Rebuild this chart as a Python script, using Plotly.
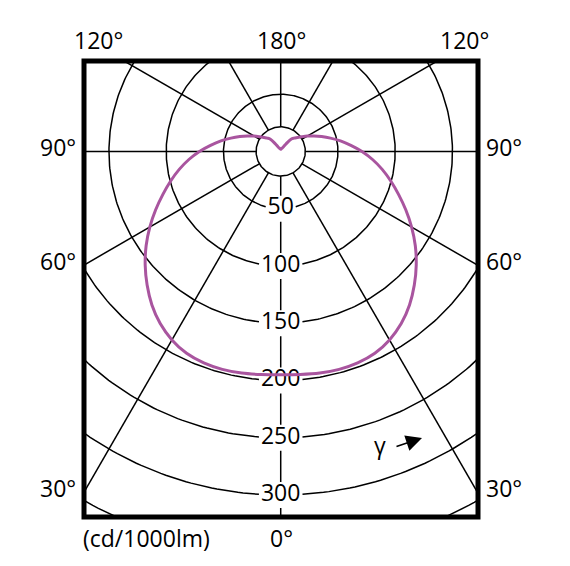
"""Polar luminous intensity diagram (cd/1000lm) drawn on a cropped cartesian frame."""
import numpy as np
import plotly.graph_objects as go

# ---- data ----
GAMMA = [0, 5, 10, 15, 20, 25, 30, 35, 40, 45, 50, 55, 60, 65, 70, 75, 80, 85, 90,
         95, 100, 105, 110, 115, 120, 125, 130, 135, 140, 145, 150, 155, 160, 165, 170, 175, 180]
INTENSITY = [195, 195.5, 196.5, 197, 196.5, 194.5, 190, 183.5, 175, 165, 154.5, 143.5, 132, 120.5,
             109.5, 99.5, 90, 80.5, 71, 61.5, 53, 45, 38, 32, 27, 22.5, 19, 16.5, 14, 8, 4.5,
             3.5, 3, 2.5, 2.2, 2, 2]

RING_VALUES = [50, 100, 150, 200, 250, 300, 350, 400]
RING_LABELS = ["50", "100", "150", "200", "250", "300"]
SPOKE_ANGLES = [30, 60, 90, 120, 150, 180, 210, 240, 270, 300, 330]
SIDE_ANGLES = [90, 60, 30]
SIDE_LABELS = ["90°", "60°", "30°"]
TOP_LABELS = ["120°", "180°", "120°"]
UNIT_LABEL = "(cd/1000lm)"
BOTTOM_LABEL = "0°"

# ---- layout constants ----
W, H = 570, 566
PX = 1.145                      # pixels per cd
HUB = 21.5                      # blank hub radius (cd)
X_RANGE = [-171.8, 172.3]
Y_RANGE = [-319.2, 79.0]
FONT = "Open Sans, Noto Sans, sans-serif"
TXT = dict(family=FONT, size=23, color="black")
GRID = dict(color="black", width=1.5)
CURVE_COLOR = "#A9559F"


def polar_xy(r, gamma_deg):
    g = np.radians(gamma_deg)
    return r * np.sin(g), -r * np.cos(g)


fig = go.Figure()

# rings, opened where the value label sits on the 0° axis
for r in RING_VALUES:
    lab = str(r) if str(r) in RING_LABELS else ""
    gap = (6.6 * len(lab) + 2) / (r * PX) if lab else 0.0
    th = np.linspace(gap, 2 * np.pi - gap, 400)
    fig.add_trace(go.Scatter(x=r * np.sin(th), y=-r * np.cos(th), mode="lines",
                             line=GRID, hoverinfo="skip", showlegend=False))

# hub
th = np.linspace(0, 2 * np.pi, 200)
fig.add_trace(go.Scatter(x=HUB * np.sin(th), y=-HUB * np.cos(th), mode="lines",
                         line=GRID, hoverinfo="skip", showlegend=False))

# spokes
sx, sy = [], []
for a in SPOKE_ANGLES:
    x0, y0 = polar_xy(HUB, a)
    x1, y1 = polar_xy(600, a)
    sx += [x0, x1, None]
    sy += [y0, y1, None]
# 0° axis, broken around the value labels
half = 13 / PX
stops = [HUB] + [v for r in RING_LABELS for v in (float(r) - half, float(r) + half)] + [600]
for i in range(0, len(stops), 2):
    sx += [0, 0, None]
    sy += [-stops[i], -stops[i + 1], None]
fig.add_trace(go.Scatter(x=sx, y=sy, mode="lines", line=GRID,
                         hoverinfo="skip", showlegend=False))

# value labels on the 0° axis
fig.add_trace(go.Scatter(x=[0] * len(RING_LABELS), y=[-float(v) for v in RING_LABELS],
                         mode="text", text=RING_LABELS, textposition="middle center",
                         textfont=TXT, hoverinfo="skip", showlegend=False))

# intensity curve (symmetric left/right halves)
g_full = [-g for g in GAMMA[::-1]] + GAMMA[1:]
i_full = INTENSITY[::-1] + INTENSITY[1:]
cx, cy = polar_xy(np.array(i_full), np.array(g_full))
fig.add_trace(go.Scatter(x=cx, y=cy, mode="lines",
                         line=dict(color=CURVE_COLOR, width=3, shape="spline", smoothing=1),
                         hoverinfo="skip", showlegend=False))

annotations = []
# side angle labels where the spokes meet the frame
for a, lab in zip(SIDE_ANGLES, SIDE_LABELS):
    yv = -abs(X_RANGE[0] / np.tan(np.radians(a))) if a != 90 else 0.0
    annotations.append(dict(x=0, xref="paper", y=yv, yref="y", text=lab, showarrow=False,
                            xanchor="right", yanchor="middle", xshift=-6, yshift=4))
    annotations.append(dict(x=1, xref="paper", y=yv, yref="y", text=lab, showarrow=False,
                            xanchor="left", yanchor="middle", xshift=6, yshift=4))
# corner / top labels
for xp, lab in zip([0.038, 0.5, 0.9645], TOP_LABELS):
    annotations.append(dict(x=xp, xref="paper", y=1.047, yref="paper", text=lab,
                            showarrow=False, xanchor="center", yanchor="middle"))
annotations.append(dict(x=0.1586, xref="paper", y=-0.046, yref="paper", text=UNIT_LABEL,
                        showarrow=False, xanchor="center", yanchor="middle"))
annotations.append(dict(x=0.502, xref="paper", y=-0.046, yref="paper", text=BOTTOM_LABEL,
                        showarrow=False, xanchor="center", yanchor="middle"))
# gamma direction marker
annotations.append(dict(x=86.7, y=-256.3, text="γ", showarrow=False,
                        xanchor="center", yanchor="middle"))
annotations.append(dict(x=123.4, y=-250.2, ax=99.8, ay=-258.1, axref="x", ayref="y",
                        text="", showarrow=True, arrowhead=2, arrowsize=2,
                        arrowwidth=1.6, arrowcolor="black"))

# page body has an 8px margin, so the frame is placed 8px less from the top/left
fig.update_layout(
    width=W, height=H,
    margin=dict(l=76, r=100, t=53, b=57),
    paper_bgcolor="white", plot_bgcolor="white",
    font=TXT,
    xaxis=dict(range=X_RANGE, visible=False, fixedrange=True),
    yaxis=dict(range=Y_RANGE, visible=False, fixedrange=True),
    shapes=[dict(type="rect", xref="paper", yref="paper", x0=0, y0=0, x1=1, y1=1,
                 line=dict(color="black", width=5), layer="above")],
    annotations=annotations,
)

fig.write_html("out.html")
